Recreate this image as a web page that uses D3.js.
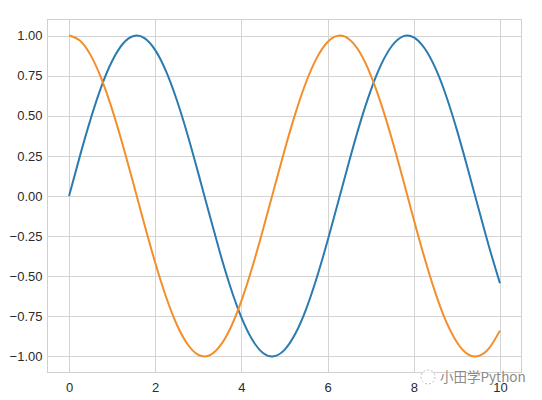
<!DOCTYPE html>
<html>
<head>
<meta charset="utf-8">
<script src="https://cdn.jsdelivr.net/npm/d3@7"></script>
<style>
html,body{margin:0;padding:0;background:#fff;}
svg{display:block;}
</style>
</head>
<body>
<svg id="chart" width="542" height="400"></svg>
<script>
const xs = [0,0.25,0.5,0.75,1,1.25,1.5,1.75,2,2.25,2.5,2.75,3,3.25,3.5,3.75,4,4.25,4.5,4.75,5,5.25,5.5,5.75,6,6.25,6.5,6.75,7,7.25,7.5,7.75,8,8.25,8.5,8.75,9,9.25,9.5,9.75,10];
const sinVals = [0.000,0.247,0.479,0.682,0.841,0.949,0.997,0.984,0.909,0.778,0.598,0.382,0.141,-0.108,-0.351,-0.572,-0.757,-0.895,-0.978,-0.999,-0.959,-0.859,-0.706,-0.508,-0.279,-0.033,0.215,0.451,0.657,0.823,0.938,0.995,0.989,0.921,0.798,0.625,0.412,0.173,-0.075,-0.319,-0.544];
const cosVals = [1.000,0.969,0.878,0.732,0.540,0.315,0.071,-0.178,-0.416,-0.628,-0.801,-0.924,-0.990,-0.994,-0.936,-0.821,-0.654,-0.446,-0.211,0.037,0.284,0.512,0.709,0.861,0.960,0.999,0.977,0.894,0.754,0.568,0.347,0.104,-0.146,-0.386,-0.602,-0.782,-0.911,-0.985,-0.997,-0.948,-0.839];
const xTicks = [0,2,4,6,8,10];
const yTicks = [-1.00,-0.75,-0.50,-0.25,0.00,0.25,0.50,0.75,1.00];
const seriesColors = ["#2a7bb0","#f28e2b"];

const svg = d3.select("#chart");
const L = 47.5, R = 521.5, T = 19.5, B = 372.5;
const x = d3.scaleLinear().domain([-0.5,10.5]).range([L,R]);
const y = d3.scaleLinear().domain([-1.1,1.1]).range([B,T]);

const grid = svg.append("g");
grid.selectAll(".gx").data(xTicks).enter().append("line")
  .attr("x1",d=>Math.round(x(d))+0.5).attr("x2",d=>Math.round(x(d))+0.5)
  .attr("y1",T).attr("y2",B).attr("stroke","#d4d4d4").attr("stroke-width",1);
grid.selectAll(".gy").data(yTicks).enter().append("line")
  .attr("y1",d=>Math.round(y(d))+0.5).attr("y2",d=>Math.round(y(d))+0.5)
  .attr("x1",L).attr("x2",R).attr("stroke","#d4d4d4").attr("stroke-width",1);

svg.append("rect").attr("x",L).attr("y",T).attr("width",R-L).attr("height",B-T)
  .attr("fill","none").attr("stroke","#d0d0d0").attr("stroke-width",1);

const fmt = d => (d<0?"\u2212":"") + Math.abs(d).toFixed(2);
const xAxis = d3.axisBottom(x).tickValues(xTicks).tickSize(0).tickPadding(10).tickFormat(d3.format("d"));
const yAxis = d3.axisLeft(y).tickValues(yTicks).tickSize(0).tickPadding(5).tickFormat(fmt);
const gx = svg.append("g").attr("transform",`translate(0,${B})`).call(xAxis);
const gy = svg.append("g").attr("transform",`translate(${L},0)`).call(yAxis);
[gx,gy].forEach(g=>{
  g.select(".domain").remove();
  g.selectAll("text").attr("fill","#2b2b2b").style("font-family","'Liberation Sans',Arial,sans-serif").style("font-size","13px");
});

const line = d3.line().x((d,i)=>x(xs[i])).y(d=>y(d)).curve(d3.curveNatural);
[sinVals,cosVals].forEach((vals,i)=>{
  svg.append("path").datum(vals).attr("d",line).attr("fill","none")
    .attr("stroke",seriesColors[i]).attr("stroke-width",2);
});

// watermark
const wm = svg.append("g");
wm.append("circle").attr("cx",428).attr("cy",377).attr("r",7)
  .attr("fill","#fff").attr("fill-opacity",0.8).attr("stroke","#bbb").attr("stroke-dasharray","2,2");
wm.append("text").attr("x",440).attr("y",382).text("小田学Python")
  .attr("fill","#8a8a8a").attr("stroke","#fff").attr("stroke-width",0.6).attr("paint-order","stroke")
  .style("font-family","'Noto Sans CJK SC',sans-serif").style("font-size","13.5px");
</script>
</body>
</html>
